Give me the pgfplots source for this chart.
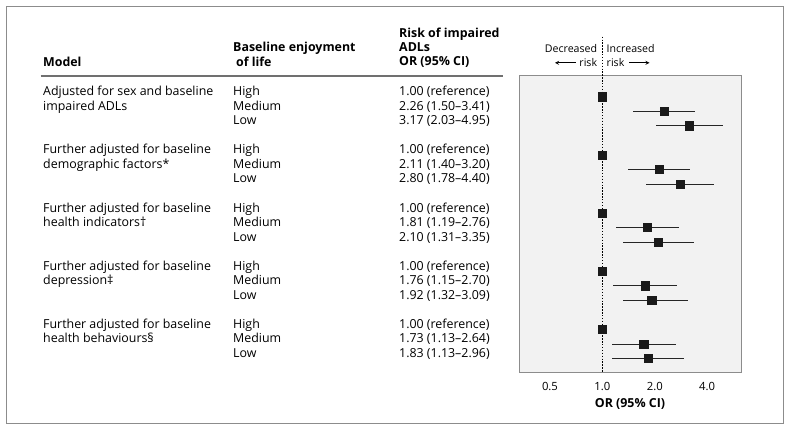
\documentclass[border=0pt]{standalone}
\usepackage{fontspec}
\setmainfont{Open Sans}
\usepackage{pgfplots}
\pgfplotsset{compat=1.18}
\definecolor{framegray}{HTML}{8C8C8C}
\definecolor{rulegray}{HTML}{707070}
\definecolor{bggray}{HTML}{F2F2F2}
\definecolor{sq}{HTML}{1A1A1A}
\begin{document}
\fontsize{12.4bp}{14.5bp}\selectfont
\begin{tikzpicture}
\useasboundingbox (0,0) rectangle (791bp,-432bp);
\draw[framegray, line width=1.2bp] (6.7bp,-6.7bp) rectangle (783.3bp,-423.3bp);
\begin{axis}[
  at={(519bp,-372.7bp)}, anchor=south west,
  scale only axis, width=222bp, height=297bp,
  xmode=log, log basis x=2,
  xmin=0.332, xmax=6.26,
  ymin=-18.98, ymax=1.444,
  xtick={0.5,1,2,4}, xticklabels={0.5,1.0,2.0,4.0},
  ytick=\empty,
  major tick length=0pt,
  /pgf/number format/assume math mode=true,
  xticklabel style={font=\fontsize{11.3bp}{14bp}\selectfont, anchor=base, yshift=-17.5bp},
  axis line style={framegray, line width=1bp},
  axis background/.style={fill=bggray},
  clip=false,
]
\draw[black, line width=1.6bp, dash pattern=on 1.4bp off 1.5bp] (axis cs:1,4.13) -- (axis cs:1,-18.98);
\addplot[only marks, mark=square*, mark size=4.1bp,
  mark options={fill=sq, draw=sq, solid},
  error bars/.cd, x dir=both, x explicit, error mark=none,
  error bar style={black!85, line width=0.8bp}]
coordinates {
 (1,0) +- (0,0)
 (2.26,-1) += (1.15,0) -= (0.76,0)
 (3.17,-2) += (1.78,0) -= (1.14,0)
 (1,-4) +- (0,0)
 (2.11,-5) += (1.09,0) -= (0.71,0)
 (2.80,-6) += (1.60,0) -= (1.02,0)
 (1,-8) +- (0,0)
 (1.81,-9) += (0.95,0) -= (0.62,0)
 (2.10,-10) += (1.25,0) -= (0.79,0)
 (1,-12) +- (0,0)
 (1.76,-13) += (0.94,0) -= (0.61,0)
 (1.92,-14) += (1.17,0) -= (0.60,0)
 (1,-16) +- (0,0)
 (1.73,-17) += (0.91,0) -= (0.60,0)
 (1.83,-18) += (1.13,0) -= (0.70,0)
};
\end{axis}
\begin{scope}[x=1bp, y=-1bp]
% header
\node[anchor=base west, inner sep=0pt] at (43,66) {\bfseries Model};
\node[anchor=base west, inner sep=0pt] at (233,51.5) {\bfseries Baseline enjoyment};
\node[anchor=base west, inner sep=0pt] at (236,66) {\bfseries of life};
\node[anchor=base west, inner sep=0pt] at (399,37.3) {\bfseries Risk of impaired};
\node[anchor=base west, inner sep=0pt] at (399,51.7) {\bfseries ADLs};
\node[anchor=base west, inner sep=0pt] at (399,65.8) {\bfseries OR (95\% CI)};
\draw[rulegray, line width=1.2bp] (40.7,76) -- (503,76);
% direction annotation
\begin{scope}[font=\fontsize{10.6bp}{13bp}\selectfont]
\node[anchor=base east, inner sep=0pt] at (597.3,52.3) {Decreased};
\node[anchor=base west, inner sep=0pt] at (606.5,52.3) {Increased};
\node[anchor=base east, inner sep=0pt] at (597.3,66.7) {risk};
\node[anchor=base west, inner sep=0pt] at (606.5,66.7) {risk};
\end{scope}
\draw[-stealth, line width=0.8bp] (575.5,62.8) -- (555,62.8);
\draw[-stealth, line width=0.8bp] (629,62.8) -- (649.5,62.8);
% x label
\node[anchor=base, inner sep=0pt] at (630,407.5) {\bfseries OR (95\% CI)};
% rows
\foreach \g/\la/\lb/\vb/\vc [count=\k from 0] in {
  {Adjusted for sex and baseline}/{impaired ADLs}/{2.26 (1.50–3.41)}/{3.17 (2.03–4.95)},
  {Further adjusted for baseline}/{demographic factors*}/{2.11 (1.40–3.20)}/{2.80 (1.78–4.40)},
  {Further adjusted for baseline}/{health indicators†}/{1.81 (1.19–2.76)}/{2.10 (1.31–3.35)},
  {Further adjusted for baseline}/{depression‡}/{1.76 (1.15–2.70)}/{1.92 (1.32–3.09)},
  {Further adjusted for baseline}/{health behaviours§}/{1.73 (1.13–2.64)}/{1.83 (1.13–2.96)}} {
  \pgfmathsetmacro{\ya}{95.7+14.54*4*\k}
  \pgfmathsetmacro{\yb}{\ya+14.54}
  \pgfmathsetmacro{\yc}{\ya+2*14.54}
  \node[anchor=base west, inner sep=0pt] at (43,\ya) {\g};
  \node[anchor=base west, inner sep=0pt] at (43,\yb) {\la};
  \node[anchor=base west, inner sep=0pt] at (233,\ya) {High};
  \node[anchor=base west, inner sep=0pt] at (233,\yb) {Medium};
  \node[anchor=base west, inner sep=0pt] at (233,\yc) {Low};
  \node[anchor=base west, inner sep=0pt] at (399,\ya) {1.00 (reference)};
  \node[anchor=base west, inner sep=0pt] at (399,\yb) {\lb};
  \node[anchor=base west, inner sep=0pt] at (399,\yc) {\vc};
}
\end{scope}
\end{tikzpicture}
\end{document}
